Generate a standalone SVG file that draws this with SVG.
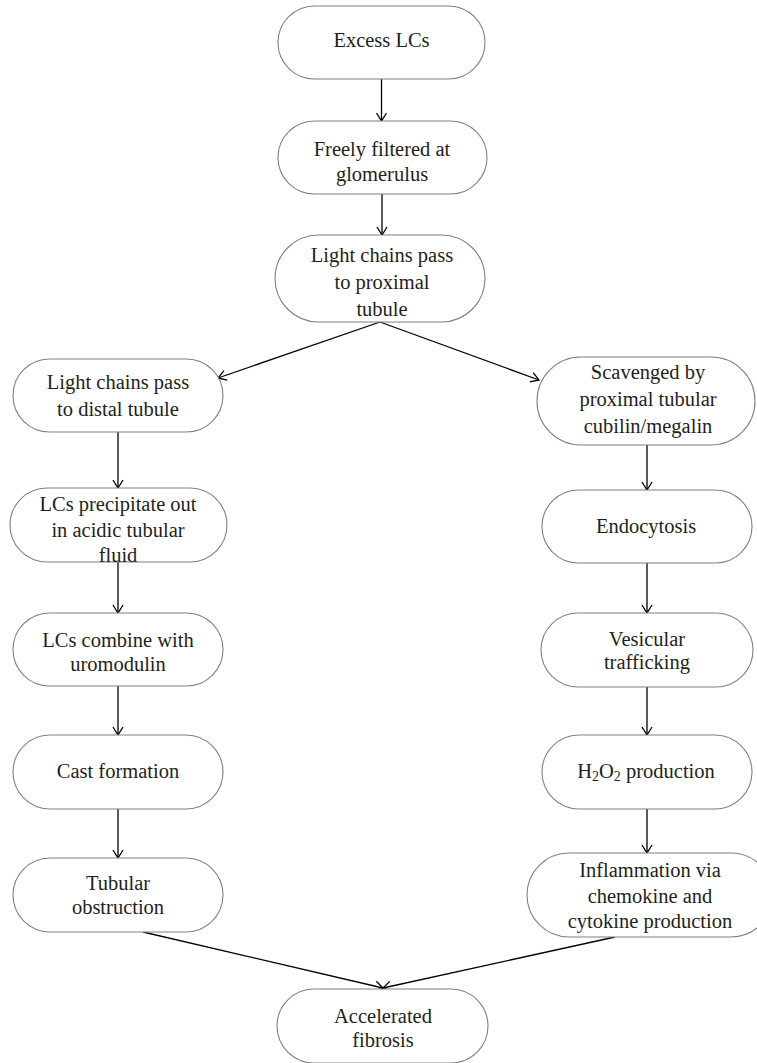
<svg xmlns="http://www.w3.org/2000/svg" width="757" height="1063" viewBox="0 0 757 1063">
<style>
.node{fill:#fff;stroke:#808080;stroke-width:1.1}
.t{font-family:"Liberation Serif","Times New Roman",serif;font-size:20.5px;fill:#231f20;text-anchor:middle}
.c{stroke:#000;stroke-width:1.3;fill:none;marker-end:url(#ah)}
</style>
<defs>
<marker id="ah" markerUnits="userSpaceOnUse" markerWidth="14" markerHeight="14" refX="10" refY="6" orient="auto">
<path d="M2,1 L10,6 L2,11" fill="none" stroke="#000" stroke-width="1.3"/>
</marker>
</defs>
<rect width="757" height="1063" fill="#fff"/>
<g id="connectors">
<line class="c" x1="381.5" y1="79" x2="381.5" y2="121"/>
<line class="c" x1="382" y1="194" x2="382" y2="235"/>
<line class="c" x1="380" y1="322" x2="218" y2="378"/>
<line class="c" x1="380" y1="322" x2="539" y2="380"/>
<line class="c" x1="118" y1="432" x2="118" y2="488"/>
<line class="c" x1="118" y1="562" x2="118" y2="613"/>
<line class="c" x1="118" y1="686" x2="118" y2="735"/>
<line class="c" x1="118" y1="809" x2="118" y2="858"/>
<line class="c" x1="647" y1="445" x2="647" y2="490"/>
<line class="c" x1="647" y1="563" x2="647" y2="613"/>
<line class="c" x1="647" y1="687" x2="647" y2="735"/>
<line class="c" x1="647" y1="809" x2="647" y2="853"/>
<line class="c" x1="143" y1="932" x2="383" y2="988"/>
<line class="c" x1="615" y1="937" x2="383" y2="988"/>
</g>
<g id="n1"><rect class="node" x="278" y="6" width="207" height="73" rx="36.5"/><text class="t" x="381.5" y="47">Excess LCs</text></g>
<g id="n2"><rect class="node" x="278" y="121" width="209" height="73" rx="36.5"/><text class="t" x="382" y="156">Freely filtered at</text><text class="t" x="382" y="181">glomerulus</text></g>
<g id="n3"><rect class="node" x="275" y="235" width="210" height="87" rx="43.5"/><text class="t" x="382" y="262">Light chains pass</text><text class="t" x="382" y="289">to proximal</text><text class="t" x="382" y="316">tubule</text></g>
<g id="n4"><rect class="node" x="13" y="359" width="210" height="73" rx="36.5"/><text class="t" x="118" y="389">Light chains pass</text><text class="t" x="118" y="416">to distal tubule</text></g>
<g id="n5"><rect class="node" x="537" y="357" width="218" height="88" rx="44"/><text class="t" x="648" y="379">Scavenged by</text><text class="t" x="648" y="406">proximal tubular</text><text class="t" x="648" y="433">cubilin/megalin</text></g>
<g id="n6"><rect class="node" x="542" y="490" width="210" height="73" rx="36.5"/><text class="t" x="646" y="533">Endocytosis</text></g>
<g id="n7"><rect class="node" x="10" y="488" width="217" height="74" rx="37"/><text class="t" x="118" y="511">LCs precipitate out</text><text class="t" x="118" y="537">in acidic tubular</text><text class="t" x="118" y="562">fluid</text></g>
<g id="n8"><rect class="node" x="541" y="613" width="212" height="74" rx="37"/><text class="t" x="647" y="646">Vesicular</text><text class="t" x="647" y="669">trafficking</text></g>
<g id="n9"><rect class="node" x="13" y="613" width="210" height="73" rx="36.5"/><text class="t" x="118" y="647">LCs combine with</text><text class="t" x="118" y="671">uromodulin</text></g>
<g id="n10"><rect class="node" x="13" y="735" width="210" height="74" rx="37"/><text class="t" x="118" y="778">Cast formation</text></g>
<g id="n11"><rect class="node" x="542" y="735" width="210" height="74" rx="37"/><text class="t" x="646" y="778">H<tspan font-size="14" dy="3">2</tspan><tspan dy="-3">O</tspan><tspan font-size="14" dy="3">2</tspan><tspan dy="-3"> production</tspan></text></g>
<g id="n12"><rect class="node" x="13" y="858" width="210" height="74" rx="37"/><text class="t" x="118" y="890">Tubular</text><text class="t" x="118" y="914">obstruction</text></g>
<g id="n13"><rect class="node" x="527" y="853" width="246" height="84" rx="42"/><text class="t" x="650" y="877">Inflammation via</text><text class="t" x="650" y="903">chemokine and</text><text class="t" x="650" y="928">cytokine production</text></g>
<g id="n14"><rect class="node" x="277" y="989" width="211" height="74" rx="37"/><text class="t" x="383" y="1023">Accelerated</text><text class="t" x="383" y="1047">fibrosis</text></g>
</svg>
